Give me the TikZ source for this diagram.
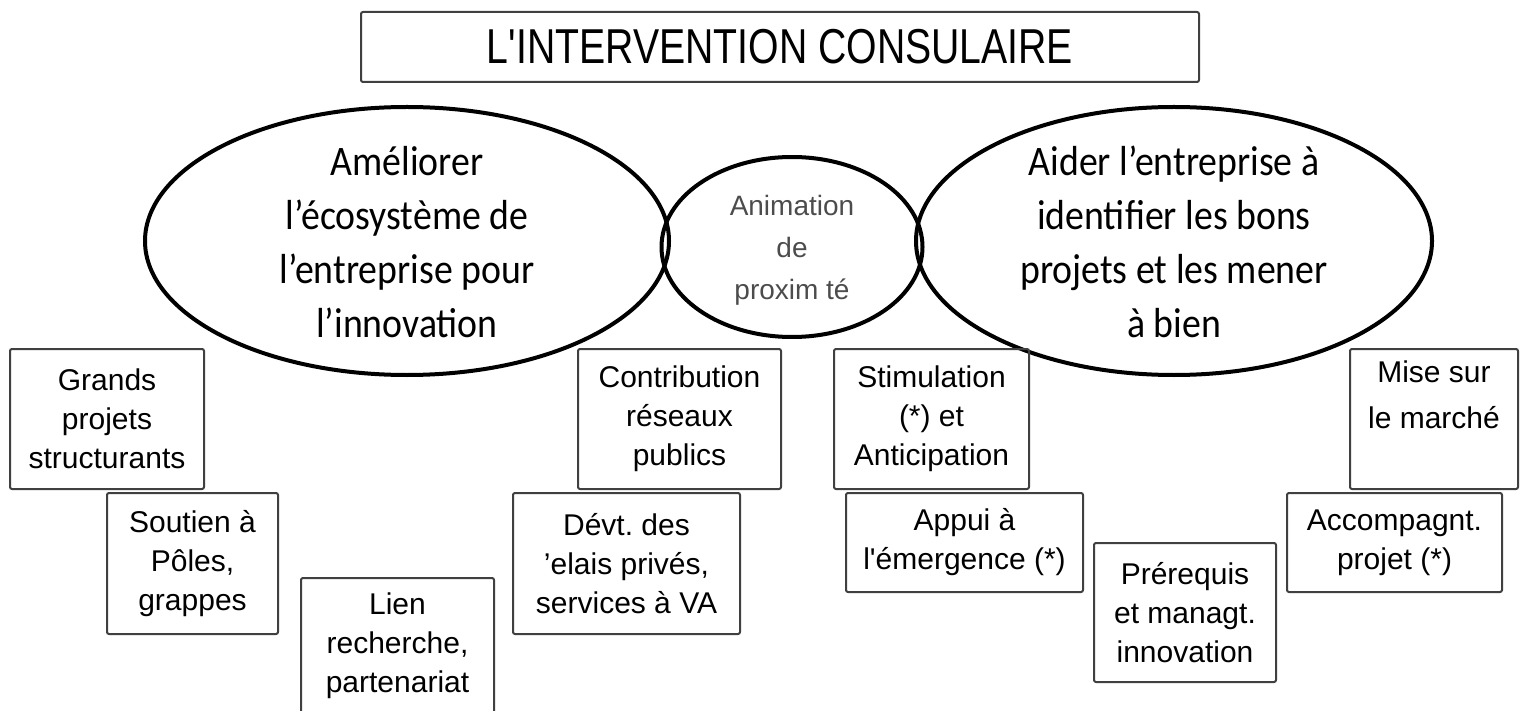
\documentclass[tikz,border=0pt]{standalone}
\usepackage{fontspec}
\usetikzlibrary{shapes.geometric}
\newfontfamily\boitefont{Liberation Sans}
\newfontfamily\titrefont[FakeStretch=0.8]{Liberation Sans}
\newfontfamily\bullefont[FakeStretch=0.9]{Carlito}

\begin{document}
\begin{tikzpicture}[x=0.5pt, y=-0.5pt,
    cadre/.style={draw=black!75, line width=1pt, rounded corners=1pt, inner sep=0pt,
      align=center, font=\boitefont\fontsize{15}{19.5}\selectfont},
    bulle/.style={ellipse, draw, line width=2pt, inner sep=0pt},
    grandtexte/.style={align=center, font=\bullefont\fontsize{21}{27}\selectfont},
    petittexte/.style={align=center, text=black!70, font=\boitefont\fontsize{14}{21}\selectfont}]

    \useasboundingbox (0,0) rectangle (1520,711);

    % Titre
    \node[cadre, minimum width=419pt, minimum height=35pt,
      font=\titrefont\fontsize{24.5}{28}\selectfont] (titre) at (780,47) {L'INTERVENTION CONSULAIRE};

    % Ellipses
    \node[bulle, minimum width=262pt, minimum height=134pt] (ecosys) at (407,241) {};
    \node[bulle, minimum width=130.5pt, minimum height=90pt] (proxi) at (792,247) {};
    \node[bulle, minimum width=258pt, minimum height=134pt] (projets) at (1174,241) {};
    \node[grandtexte] (ecosys-txt) at (407,242) {Améliorer\\l’écosystème de\\l’entreprise pour\\l’innovation};
    \node[petittexte] (proxi-txt) at (792,250) {Animation\\de\\proxim té};
    \node[grandtexte] (projets-txt) at (1174,242) {Aider l’entreprise à\\identifier les bons\\projets et les mener\\à bien};

    % Cadres de gauche
    \node[cadre, minimum width=97pt, minimum height=70pt] (grands) at (107,419) {Grands\\projets\\structurants};
    \node[cadre, minimum width=85.5pt, minimum height=70.5pt] (poles) at (192.5,563.5) {Soutien à\\Pôles,\\grappes};
    \node[cadre, minimum width=96.5pt, minimum height=68pt] (lien) at (397.5,646) {Lien\\recherche,\\partenariat};
    \node[cadre, minimum width=101.5pt, minimum height=70pt] (reseaux) at (679.5,419) {Contribution\\réseaux\\publics};
    \node[cadre, minimum width=113.5pt, minimum height=70.5pt] (relais) at (626.5,563.5) {Dévt.\ des\\’elais privés,\\services à VA};

    % Cadres de droite
    \node[cadre, minimum width=97.5pt, minimum height=70pt] (stimul) at (931.5,419) {Stimulation\\(*) et\\Anticipation};
    \node[cadre, minimum width=118.5pt, minimum height=49.5pt] (appui) at (964.5,542.5) {Appui à\\l'émergence (*)};
    \node[cadre, minimum width=91pt, minimum height=69.5pt] (prereq) at (1185,612.5) {Prérequis\\et managt.\\innovation};
    \node[cadre, minimum width=84pt, minimum height=70pt] (marche) at (1434,419) {};
    \node[cadre, draw=none, anchor=north, font=\boitefont\fontsize{15}{23}\selectfont] (marche-txt) at (1434,360) {Mise sur\\le marché};
    \node[cadre, minimum width=107.5pt, minimum height=49.5pt] (accomp) at (1394.5,542.5) {Accompagnt.\\projet (*)};
\end{tikzpicture}
\end{document}
